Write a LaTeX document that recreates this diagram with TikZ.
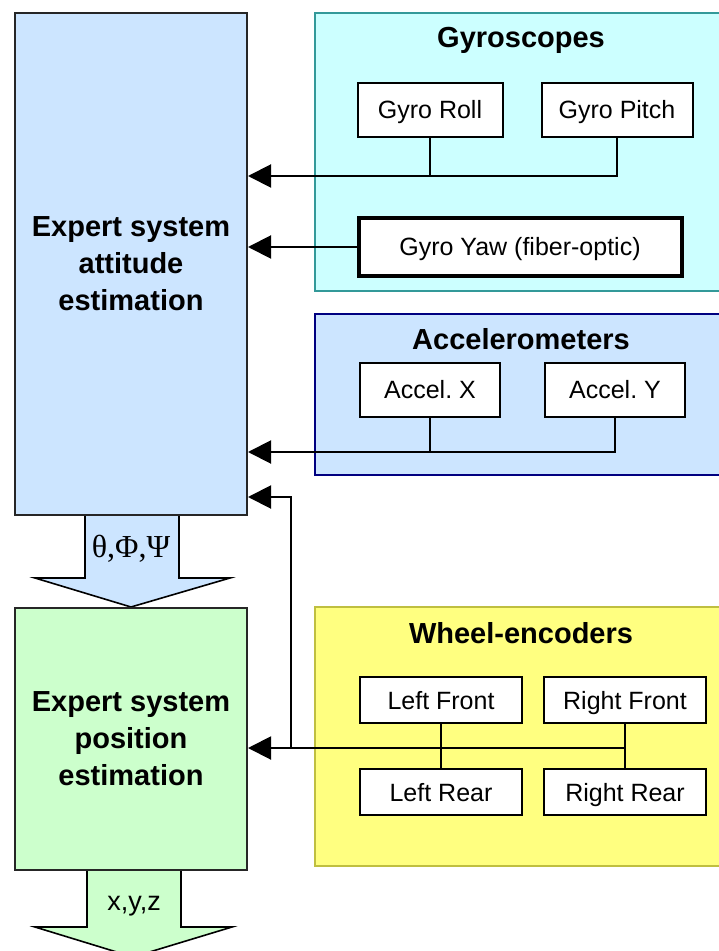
\documentclass[tikz,border=0pt]{standalone}
\usepackage{xcolor}
\usepackage{fontspec}
\setmainfont{Liberation Sans}
\newfontfamily\greekfont{Liberation Serif}
\usepackage{tikz}
\usetikzlibrary{arrows.meta, positioning, calc}
\frenchspacing

\definecolor{attblue}{HTML}{CCE5FF}
\definecolor{posgreen}{HTML}{CCFFCC}
\definecolor{gyrofill}{HTML}{CCFFFF}
\definecolor{gyroline}{HTML}{339999}
\definecolor{accline}{HTML}{000080}
\definecolor{wheelfill}{HTML}{FFFF80}
\definecolor{wheelline}{HTML}{BFBF40}

\begin{document}
\begin{tikzpicture}[
                x=0.5pt, y=-0.5pt,
                sensor/.style={rectangle, draw, line width=1pt, fill=white, inner sep=0pt,
                    text height=9pt, text depth=0pt,
                    minimum height=27pt, font=\fontsize{12.5}{14}\selectfont},
                expert/.style={rectangle, draw=black!85, line width=1pt, minimum width=116pt,
                    align=center, font=\fontsize{14.5}{18.5}\selectfont\bfseries},
                group/.style={line width=1pt},
                title/.style={font=\fontsize{14.5}{17}\selectfont\bfseries},
                wire/.style={line width=1pt},
                feed/.style={line width=1pt, -{Triangle[length=11.5pt, width=11.5pt]}},
                bigarrow/.style={draw, line width=0.8pt}
            ]
                \useasboundingbox (0,0) rectangle (718,951);

                % Sensor groups
                \path[group, fill=gyrofill, draw=gyroline] (315,13) rectangle (728,291);
                \path[group, fill=attblue, draw=accline] (315,314) rectangle (728,475);
                \path[group, fill=wheelfill, draw=wheelline] (315,607) rectangle (728,866);
                \node[title] (gyrotitle) at (521,40) {Gyroscopes};
                \node[title] (acctitle) at (521,339) {Accelerometers};
                \node[title] (wheeltitle) at (521,633) {Wheel-encoders};

                % Block arrows
                \path[bigarrow, fill=attblue] (85,515) -- (85,578) -- (35,578) -- (131,607)
                    -- (230,578) -- (179,578) -- (179,515);
                \path[bigarrow, fill=posgreen] (87,870) -- (87,927) -- (35,927) -- (133,957)
                    -- (232,927) -- (181,927) -- (181,870);
                \node[font=\greekfont\fontsize{16}{18}\selectfont] (angles) at (131,549) {θ,Φ,Ψ};
                \node[font=\fontsize{13.5}{16}\selectfont] (xyz) at (134,906) {x,y,z};

                % Nodes
                \node[expert, fill=attblue, minimum height=251pt] (att) at (131,264)
                    {Expert system\\attitude\\estimation};
                \node[expert, fill=posgreen, minimum height=131pt] (pos) at (131,739)
                    {Expert system\\position\\estimation};

                \node[sensor, minimum width=72.5pt] (roll) at (430,110) {Gyro Roll};
                \node[sensor, minimum width=75.5pt] (pitch) at (617,110) {Gyro Pitch};
                \node[sensor, line width=2pt, minimum width=161.5pt, minimum height=29pt] (yaw)
                    at (520,247) {Gyro Yaw (fiber-optic)};

                \node[sensor, minimum width=70pt] (accx) at (430,390) {Accel. X};
                \node[sensor, minimum width=70pt] (accy) at (615,390) {Accel. Y};

                \node[sensor, minimum width=81pt, minimum height=23pt] (lf) at (441,700) {Left Front};
                \node[sensor, minimum width=81pt, minimum height=23pt] (rf) at (625,700) {Right Front};
                \node[sensor, minimum width=81pt, minimum height=23pt] (lr) at (441,792) {Left Rear};
                \node[sensor, minimum width=81pt, minimum height=23pt] (rr) at (625,792) {Right Rear};

                \coordinate (gyrobus) at (430,176);
                \coordinate (accbus) at (430,452);
                \coordinate (wheelbus) at (441,748);
                \coordinate (tap) at (291,748);

                % Edges
                \draw[wire] (roll.south) |- (pitch.south |- gyrobus) -- (pitch.south);
                \draw[feed] (gyrobus) -- (att.east |- gyrobus);
                \draw[feed] (yaw.west) -- (att.east |- yaw.west);

                \draw[wire] (accx.south) |- (accy.south |- accbus) -- (accy.south);
                \draw[feed] (accbus) -- (att.east |- accbus);

                \draw[wire] (lf.south) -- (lr.north);
                \draw[wire] (rf.south) -- (rr.north);
                \draw[wire] (wheelbus) -- (rf.south |- wheelbus);
                \draw[feed] (wheelbus) -- (pos.east |- wheelbus);
                \draw[feed] (tap) |- ($(att.east)+(0,233)$);
            \end{tikzpicture}
\end{document}
